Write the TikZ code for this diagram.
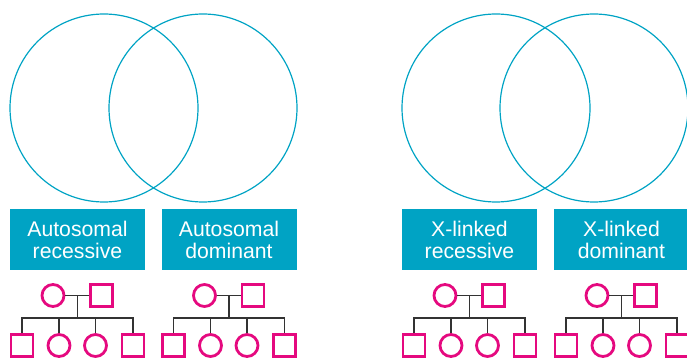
\documentclass[tikz,border=0pt]{standalone}
\usepackage{fontspec}
\setmainfont{Liberation Sans}
\definecolor{vteal}{HTML}{00A3C4}
\definecolor{vpink}{HTML}{E5097F}
\definecolor{vline}{HTML}{333333}
\tikzset{
  venn/.style={draw=vteal, line width=1.2pt, circle, minimum size=188pt, inner sep=0pt},
  tagbox/.style={fill=vteal, text=white, minimum width=135pt, minimum height=61pt, inner sep=0pt, align=center, font=\fontsize{21.2}{22}\selectfont},
  fem/.style={circle, draw=vpink, line width=2.8pt, minimum size=22pt, inner sep=0pt},
  mal/.style={rectangle, draw=vpink, line width=2.8pt, minimum size=22pt, inner sep=0pt},
  link/.style={draw=vline, line width=1.6pt},
}
\newcommand{\pedig}[2]{%
  \begin{scope}[xshift=#1pt]
    \node[fem] (#2m) at (53,295.5) {};
    \node[mal] (#2f) at (101.5,295.5) {};
    \coordinate (#2j) at (77.5,295.5);
    \coordinate (#2s) at (77.5,318);
    \node[mal] (#2c1) at (22,345.5) {};
    \node[fem] (#2c2) at (59,345.5) {};
    \node[fem] (#2c3) at (95.5,345.5) {};
    \node[mal] (#2c4) at (133,345.5) {};
    \draw[link] (#2m.east) -- (#2f.west);
    \draw[link] (#2j) -- (#2s);
    \draw[link] (#2c1.north) |- (#2s) -| (#2c4.north);
    \draw[link] (#2c2.north) -- (#2c2.north |- #2s);
    \draw[link] (#2c3.north) -- (#2c3.north |- #2s);
  \end{scope}}
\begin{document}
\begin{tikzpicture}[x=1pt,y=-1pt]
  \useasboundingbox (0,0) rectangle (687,358);
  \clip (0,0) rectangle (687,358);
  \node[venn] (v1) at (104,108) {};
  \node[venn] (v2) at (203,108) {};
  \node[venn] (v3) at (496,108) {};
  \node[venn] (v4) at (594,108) {};
  \node[tagbox] (b1) at (77.5,239.5) {Autosomal\\recessive};
  \node[tagbox] (b2) at (229,239.5) {Autosomal\\dominant};
  \node[tagbox] (b3) at (469.5,239.5) {X-linked\\recessive};
  \node[tagbox] (b4) at (621.5,239.5) {X-linked\\dominant};
  \pedig{0}{p}
  \pedig{151.5}{q}
  \pedig{392}{r}
  \pedig{544}{s}
\end{tikzpicture}
\end{document}
